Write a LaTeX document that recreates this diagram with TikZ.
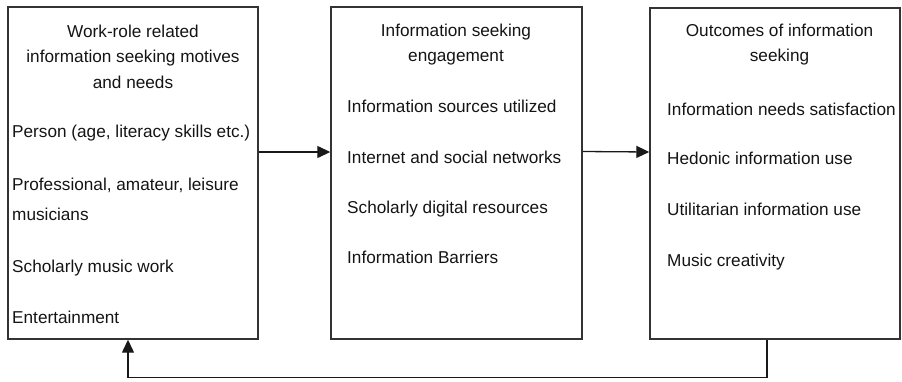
\documentclass[tikz,border=0pt]{standalone}
\usepackage{fontspec}
\setmainfont{Liberation Sans}
\usetikzlibrary{arrows.meta}
\tikzset{
  stage/.style={draw=black!80, line width=1.4pt, minimum width=250pt,
    minimum height=332pt, inner sep=0pt},
  heading/.style={anchor=north, align=center, inner sep=0pt, text=black!92,
    font=\fontsize{17.2}{25.5}\selectfont},
  entry/.style={anchor=north west, align=left, inner sep=0pt, text=black!92,
    font=\fontsize{17.2}{25.5}\selectfont},
  flow/.style={draw=black!90, line width=1.3pt, -{Triangle[length=13pt,width=12pt]}}
}
\begin{document}
\begin{tikzpicture}[x=1pt,y=-1pt]
  \useasboundingbox (0,0) rectangle (902,381);
  \node [stage] (needs) at (133,173) {};
  \node [stage, minimum width=251pt] (engage) at (456.5,173) {};
  \node [stage, minimum height=331pt] (outcome) at (775,173.5) {};

  \node [heading] (needs title) at (133,24.5)
        {Work-role related\\information seeking motives\\and needs};
  \node [heading] (engage title) at (456,23.5) {Information seeking\\engagement};
  \node [heading] (outcome title) at (779.5,23.5) {Outcomes of information\\seeking};

  \node [entry] (person) at (12,124.5) {Person (age, literacy skills etc.)};
  \node [entry] (musician) at (12,177.5) {Professional, amateur, leisure\\[4.5pt]musicians};
  \node [entry] (scholar) at (12,259.5) {Scholarly music work};
  \node [entry] (fun) at (12,310.5) {Entertainment};

  \node [entry] (sources) at (347,99.5) {Information sources utilized};
  \node [entry] (social) at (347,150.5) {Internet and social networks};
  \node [entry] (digital) at (347,200.5) {Scholarly digital resources};
  \node [entry] (barrier) at (347,250.5) {Information Barriers};

  \node [entry] (satisfy) at (667,102.5) {Information needs satisfaction};
  \node [entry] (hedonic) at (667,151.5) {Hedonic information use};
  \node [entry] (utility) at (667,202.5) {Utilitarian information use};
  \node [entry] (create) at (667,253.5) {Music creativity};

  \draw [flow] ([yshift=21pt]needs.east) -- ([yshift=21pt]engage.west);
  \draw [flow] ([yshift=21.5pt]engage.east) -- ([yshift=21.5pt]outcome.west);
  \draw [flow] ([xshift=-8pt]outcome.south) -- ++(0,38) -| ([xshift=-5pt]needs.south);
\end{tikzpicture}
\end{document}
